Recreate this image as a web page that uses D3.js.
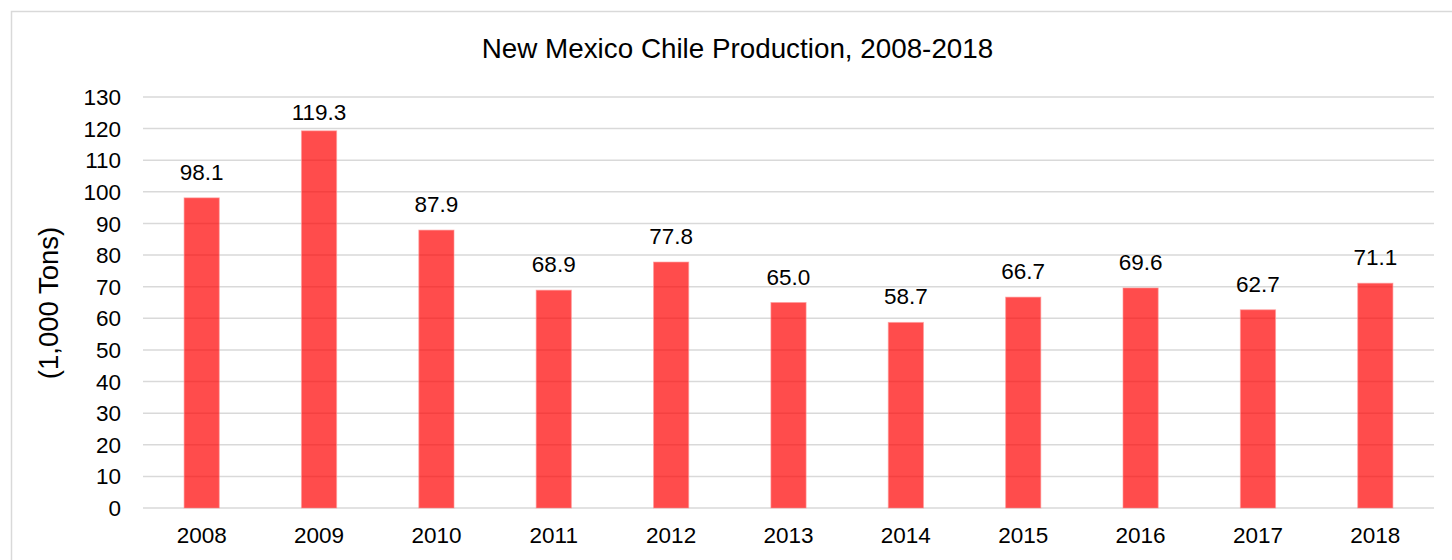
<!DOCTYPE html>
<html><head><meta charset="utf-8">
<script src="https://cdn.jsdelivr.net/npm/d3@7"></script>
<style>body{margin:0;background:#fff}svg{display:block}text{font-family:"Liberation Sans",Arial,sans-serif}</style>
</head><body>
<svg id="c" width="1452" height="560"></svg>
<script>
const years = ["2008","2009","2010","2011","2012","2013","2014","2015","2016","2017","2018"];
const production = [98.1,119.3,87.9,68.9,77.8,65.0,58.7,66.7,69.6,62.7,71.1];
const yTicks = [0,10,20,30,40,50,60,70,80,90,100,110,120,130];
const title = "New Mexico Chile Production, 2008-2018";
const yTitle = "(1,000 Tons)";

(function(){
const svg = d3.select("#c");
svg.append("rect").attr("x",11.5).attr("y",11.5).attr("width",1460).attr("height",580)
  .attr("fill","#fff").attr("stroke","#d9d9d9").attr("stroke-width",1.5);

const pL=143, pR=1434, pT=97, pB=508;
const x = d3.scaleBand().domain(years).range([pL,pR]).paddingInner(0.7).paddingOuter(0.35);
const y = d3.scaleLinear().domain([0,130]).range([pB,pT]);

svg.append("g").selectAll("line").data(yTicks).join("line")
  .attr("x1",pL).attr("x2",pR).attr("y1",d=>y(d)).attr("y2",d=>y(d))
  .attr("stroke","#d9d9d9").attr("stroke-width",1.5);

svg.append("g").selectAll("text").data(yTicks).join("text")
  .attr("x",121).attr("y",d=>y(d)).attr("dy","0.36em").attr("text-anchor","end")
  .attr("font-size",22.5).attr("fill","#000").text(d=>d);

svg.append("g").selectAll("rect").data(production).join("rect")
  .attr("x",(d,i)=>x(years[i])).attr("width",x.bandwidth())
  .attr("y",d=>y(d)).attr("height",d=>pB-y(d))
  .attr("fill","#ff0000").attr("fill-opacity",0.7)
  .attr("stroke","#ff9999").attr("stroke-opacity",0.6).attr("stroke-width",1);

svg.append("g").selectAll("text").data(production).join("text")
  .attr("x",(d,i)=>x(years[i])+x.bandwidth()/2).attr("y",d=>Math.max(y(d)-18,120))
  .attr("text-anchor","middle").attr("font-size",22.5).attr("fill","#000").text(d=>d.toFixed(1));

svg.append("g").selectAll("text").data(years).join("text")
  .attr("x",d=>x(d)+x.bandwidth()/2).attr("y",543)
  .attr("text-anchor","middle").attr("font-size",22.5).attr("fill","#000").text(d=>d);

svg.append("text").attr("x",737.5).attr("y",57.5)
  .attr("text-anchor","middle").attr("font-size",27.8).attr("fill","#000").text(title);

svg.append("text").attr("transform","translate(48,303) rotate(-90)").attr("dy","0.36em")
  .attr("text-anchor","middle").attr("font-size",27.5).attr("fill","#000").text(yTitle);
})();
</script>
</body></html>
